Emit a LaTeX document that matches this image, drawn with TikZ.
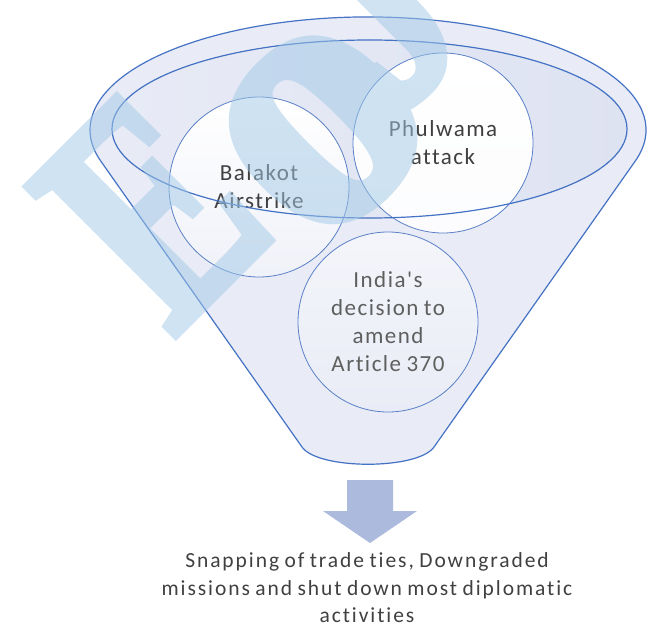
\documentclass[tikz,border=0pt]{standalone}
\usepackage{fontspec}
\setmainfont{Carlito}
\newfontfamily\circlefont[LetterSpace=6.5, WordSpace=0.8, Ligatures=NoCommon]{Carlito}
\newfontfamily\resultfont[LetterSpace=9, WordSpace=0.8, Ligatures=NoCommon]{Carlito}
\newfontfamily\markfont[FakeBold=3]{Liberation Serif Bold}

\definecolor{funnelfill}{RGB}{233,236,246}
\definecolor{rimleft}{RGB}{232,235,246}
\definecolor{rimright}{RGB}{222,227,242}
\definecolor{edgeblue}{RGB}{68,114,196}
\definecolor{circleedge}{RGB}{90,128,200}
\definecolor{arrowfill}{RGB}{172,186,222}
\definecolor{darktext}{RGB}{64,64,64}
\definecolor{softtext}{RGB}{95,95,95}
\definecolor{markblue}{RGB}{160,200,230}

\tikzset{
  funnelline/.style={draw=edgeblue, line width=1.2pt},
  bubble/.style={circle, minimum size=180pt, inner sep=0pt, align=center,
    draw=circleedge, line width=0.8pt,
    font=\circlefont\fontsize{23}{28}\selectfont},
  wmark/.style={rotate=45, anchor=base west, inner sep=0pt, text=markblue},
}

\begin{document}
\begin{tikzpicture}[x=1pt,y=1pt]
\useasboundingbox (0,0) rectangle (647,-623);

% funnel body: top rim arc, straight sides, rounded bottom
\path[fill=funnelfill, funnelline]
  (635,-161.4) arc[start angle=-16.16, end angle=196.16, x radius=278, y radius=113]
  -- (302,-447) .. controls (318,-470) and (418,-470) .. (434,-447) -- cycle;

% inner rim of the funnel mouth
\fill[left color=rimleft, right color=rimright] (369.5,-129) ellipse[x radius=257.5, y radius=89];

% the three events
\node[bubble, top color=white, bottom color=funnelfill!70!white, text=darktext]
  (balakot) at (259,-187) {Balakot\\Airstrike};
\node[bubble, top color=white, bottom color=white!85!funnelfill, text=darktext]
  (phulwama) at (443,-143) {Phulwama\\attack};
\node[bubble, top color=white!50!funnelfill, bottom color=funnelfill, text=softtext]
  (article) at (388,-322) {India's\\decision to\\amend\\Article 370};

% rim outline drawn over the circles
\draw[funnelline] (369.5,-129) ellipse[x radius=257.5, y radius=89];

% outcome
\node[font=\resultfont\fontsize{21.5}{27.5}\selectfont, text=darktext, align=center]
  (result) at (367,-588) {Snapping of trade ties, Downgraded\\missions and shut down most diplomatic\\activities};

% block arrow from the funnel spout to the outcome
\coordinate (spout) at (370,-480);
\fill[arrowfill] ([xshift=-23]spout) -- ([xshift=23]spout) -- ([xshift=23,yshift=-31]spout)
  -- ([xshift=47,yshift=-31]spout) -- ([yshift=-63]spout) -- ([xshift=-47,yshift=-31]spout)
  -- ([xshift=-23,yshift=-31]spout) -- cycle;

% translucent watermark lettering, composited as one group
\begin{scope}[transparency group, opacity=0.5]
  \node[wmark, font=\markfont\fontsize{319}{319}\selectfont]
    (markE) at (172,-338) {\scalebox{0.72}[1]{E}};
  \node[wmark, font=\markfont\fontsize{368}{368}\selectfont]
    (marko) at (318,-255) {o};
  \node[wmark, font=\markfont\fontsize{319}{319}\selectfont]
    (markJ) at (398,-116) {\scalebox{0.72}[1]{J}};
\end{scope}
\end{tikzpicture}
\end{document}
